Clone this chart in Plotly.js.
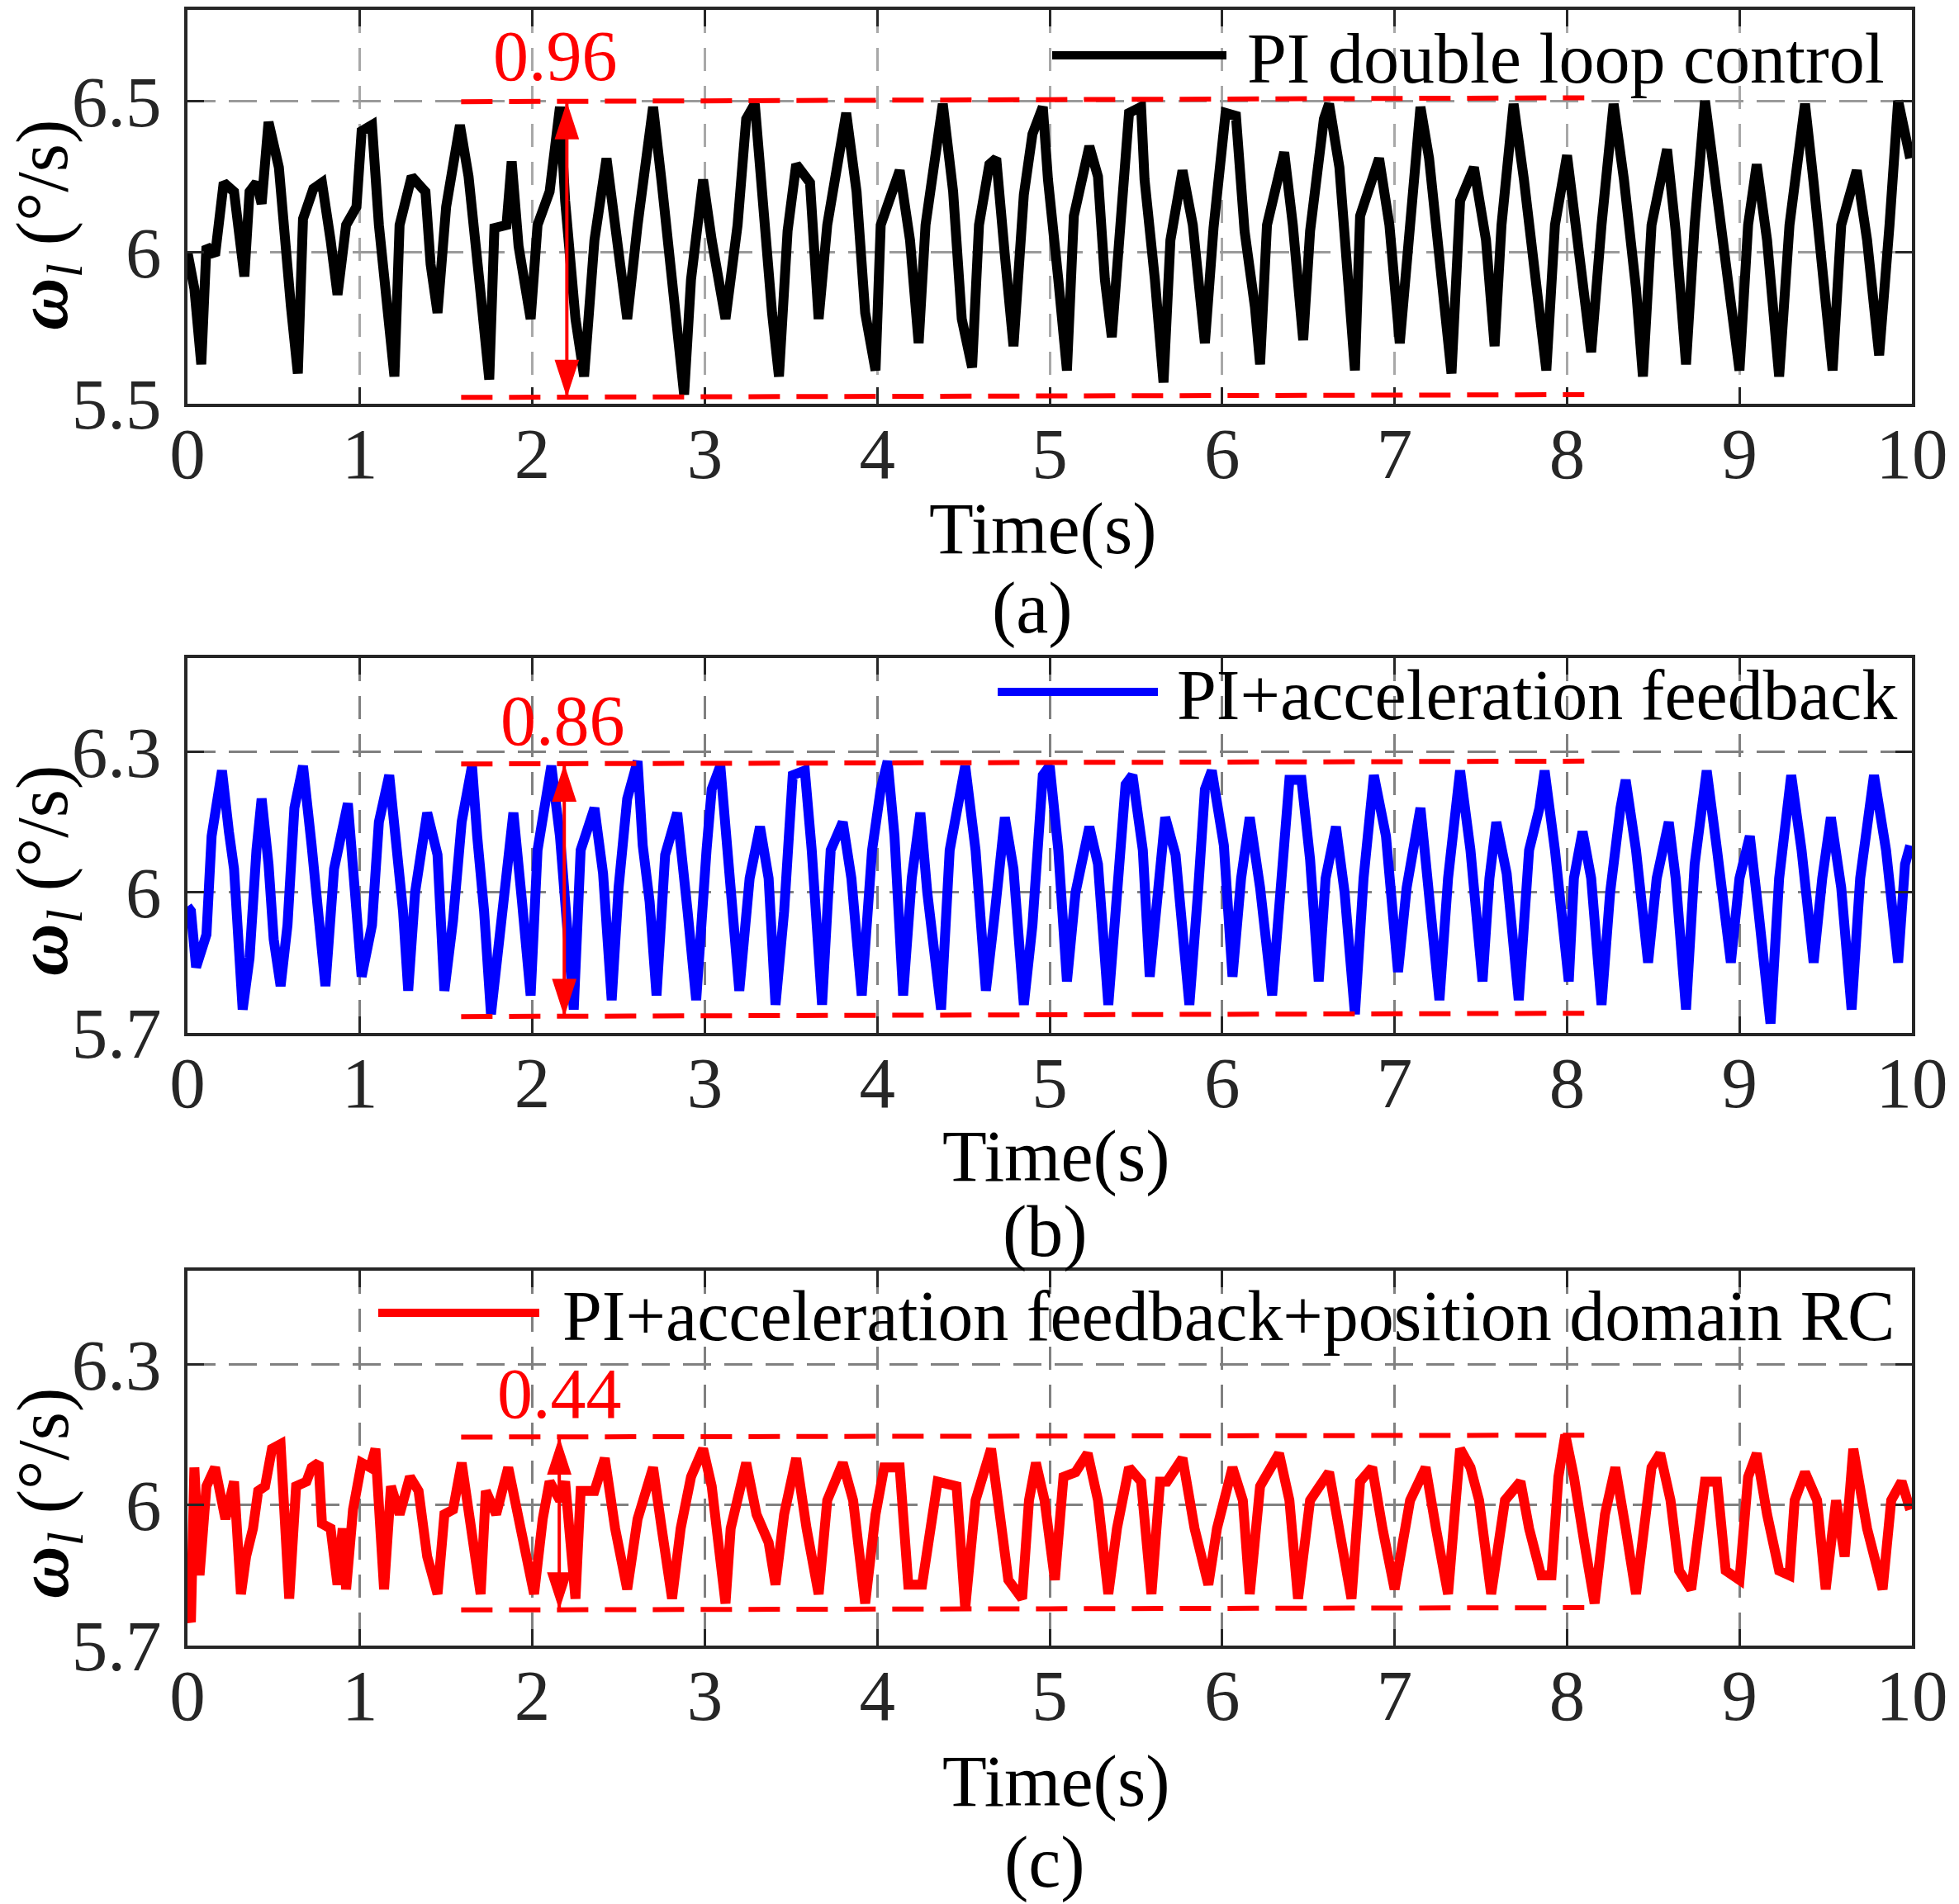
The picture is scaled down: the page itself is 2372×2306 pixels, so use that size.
<!DOCTYPE html>
<html>
<head>
<meta charset="utf-8">
<script src="https://cdn.plot.ly/plotly-3.0.1.min.js"></script>
<style>html,body{margin:0;padding:0;background:#fff;}#chart{width:2372px;height:2306px;}</style>
</head>
<body>
<div id="chart"></div>
<script>
// ---------- data ----------
const timeA = [0.00,0.04,0.08,0.11,0.16,0.21,0.27,0.33,0.36,0.40,0.43,0.47,0.53,0.57,0.60,0.64,0.67,0.73,0.78,0.83,0.87,0.92,0.98,1.01,1.07,1.11,1.14,1.20,1.23,1.30,1.38,1.41,1.45,1.50,1.58,1.63,1.69,1.75,1.78,1.85,1.88,1.92,1.99,2.03,2.10,2.16,2.19,2.25,2.30,2.36,2.43,2.50,2.55,2.61,2.70,2.75,2.81,2.88,2.92,2.99,3.04,3.12,3.19,3.24,3.29,3.33,3.39,3.43,3.48,3.53,3.61,3.66,3.71,3.82,3.88,3.93,3.99,4.02,4.13,4.19,4.24,4.28,4.38,4.44,4.49,4.55,4.59,4.65,4.69,4.74,4.79,4.85,4.90,4.96,4.99,5.05,5.10,5.14,5.23,5.28,5.32,5.36,5.41,5.46,5.53,5.55,5.61,5.66,5.70,5.77,5.83,5.90,5.95,6.02,6.08,6.13,6.19,6.22,6.26,6.36,6.41,6.47,6.51,6.59,6.62,6.68,6.73,6.77,6.80,6.91,6.97,7.03,7.09,7.15,7.20,7.27,7.33,7.38,7.46,7.53,7.58,7.62,7.69,7.75,7.82,7.88,7.93,8.00,8.05,8.14,8.20,8.27,8.33,8.40,8.44,8.49,8.58,8.63,8.69,8.74,8.80,8.87,8.94,9.00,9.05,9.10,9.16,9.23,9.29,9.38,9.43,9.48,9.54,9.59,9.68,9.74,9.81,9.87,9.92,9.99];
const omegaA = [6.00,5.88,5.63,6.02,5.99,6.23,6.20,5.92,6.20,6.23,6.16,6.43,6.28,5.99,5.82,5.60,6.11,6.21,6.23,6.04,5.86,6.09,6.15,6.40,6.42,6.09,5.91,5.59,6.09,6.25,6.20,5.96,5.80,6.15,6.42,6.25,5.92,5.58,6.08,6.09,6.30,6.02,5.78,6.09,6.20,6.48,6.17,5.78,5.59,6.04,6.31,5.96,5.78,6.09,6.48,6.23,5.91,5.53,5.91,6.24,6.04,5.78,6.09,6.44,6.49,6.17,5.80,5.59,6.07,6.29,6.23,5.78,6.09,6.46,6.20,5.80,5.61,6.09,6.27,6.04,5.70,6.09,6.49,6.20,5.78,5.62,6.09,6.29,6.31,5.99,5.69,6.19,6.39,6.48,6.24,5.91,5.61,6.12,6.35,6.25,5.91,5.72,6.09,6.46,6.48,6.24,5.91,5.57,6.04,6.27,6.09,5.70,6.08,6.46,6.45,6.07,5.82,5.63,6.09,6.33,6.09,5.71,6.07,6.44,6.49,6.28,5.91,5.61,6.12,6.31,6.09,5.70,6.09,6.48,6.31,5.91,5.60,6.17,6.28,6.04,5.69,6.09,6.49,6.24,5.91,5.61,6.09,6.32,6.09,5.67,6.09,6.49,6.24,5.88,5.59,6.09,6.34,6.07,5.63,6.09,6.50,6.20,5.88,5.61,6.09,6.29,6.04,5.59,6.09,6.49,6.23,5.91,5.61,6.09,6.27,6.04,5.66,6.09,6.50,6.31];

const timeB = [0.00,0.02,0.05,0.11,0.14,0.20,0.24,0.27,0.32,0.36,0.40,0.43,0.47,0.50,0.54,0.58,0.62,0.67,0.72,0.76,0.80,0.85,0.93,0.98,1.01,1.07,1.11,1.17,1.21,1.25,1.28,1.32,1.39,1.45,1.49,1.54,1.59,1.65,1.68,1.72,1.76,1.81,1.89,1.94,1.99,2.03,2.07,2.11,2.16,2.19,2.24,2.28,2.36,2.41,2.46,2.50,2.55,2.61,2.64,2.68,2.72,2.77,2.84,2.90,2.95,3.01,3.04,3.09,3.13,3.17,3.20,3.26,3.32,3.37,3.41,3.46,3.51,3.58,3.62,3.68,3.73,3.80,3.85,3.91,3.97,4.02,4.06,4.10,4.15,4.20,4.25,4.29,4.37,4.42,4.51,4.57,4.63,4.68,4.74,4.79,4.85,4.90,4.96,5.00,5.05,5.10,5.15,5.23,5.28,5.34,5.39,5.44,5.48,5.54,5.58,5.63,5.67,5.73,5.81,5.86,5.90,5.94,6.01,6.06,6.11,6.16,6.22,6.29,6.33,6.39,6.46,6.51,6.56,6.60,6.66,6.71,6.77,6.82,6.88,6.95,7.02,7.07,7.15,7.20,7.26,7.31,7.38,7.44,7.51,7.55,7.59,7.65,7.72,7.78,7.84,7.87,7.93,8.01,8.04,8.09,8.14,8.20,8.25,8.31,8.34,8.40,8.47,8.52,8.59,8.63,8.69,8.74,8.81,8.87,8.95,9.00,9.06,9.11,9.18,9.23,9.30,9.36,9.43,9.48,9.53,9.59,9.65,9.70,9.74,9.78,9.85,9.92,9.96,9.99];
const omegaB = [5.97,5.96,5.84,5.91,6.12,6.26,6.13,6.05,5.75,5.86,6.09,6.20,6.06,5.90,5.80,5.93,6.18,6.27,6.10,5.96,5.80,6.05,6.19,5.96,5.82,5.93,6.15,6.25,6.10,5.96,5.79,6.00,6.17,6.08,5.79,5.94,6.15,6.27,6.12,5.96,5.74,5.90,6.17,5.98,5.78,6.09,6.18,6.27,6.12,5.96,5.75,6.09,6.18,6.04,5.77,6.01,6.20,6.28,6.10,5.98,5.78,6.08,6.17,5.96,5.77,6.09,6.22,6.27,6.10,5.96,5.79,6.03,6.14,6.03,5.76,5.96,6.25,6.26,6.09,5.76,6.09,6.15,6.03,5.78,6.09,6.22,6.28,6.12,5.78,6.03,6.17,6.00,5.75,6.09,6.27,6.09,5.79,5.95,6.16,6.05,5.76,5.93,6.25,6.27,6.09,5.81,6.00,6.14,6.06,5.76,6.03,6.23,6.25,6.09,5.82,6.03,6.16,6.08,5.76,6.00,6.22,6.26,6.10,5.82,6.03,6.16,6.01,5.78,5.96,6.24,6.24,6.07,5.81,6.03,6.14,6.00,5.74,6.03,6.25,6.12,5.83,6.01,6.18,6.00,5.77,6.03,6.26,6.09,5.81,6.03,6.15,6.04,5.77,6.09,6.18,6.26,6.09,5.81,6.03,6.13,6.03,5.76,6.00,6.18,6.24,6.09,5.85,6.03,6.15,6.03,5.75,6.06,6.26,6.09,5.85,6.03,6.12,5.96,5.72,6.03,6.25,6.09,5.85,6.03,6.16,6.01,5.75,6.03,6.15,6.25,6.09,5.85,6.06,6.10];

const timeC = [0.00,0.02,0.04,0.07,0.11,0.16,0.22,0.27,0.31,0.34,0.38,0.41,0.45,0.49,0.54,0.56,0.59,0.63,0.69,0.72,0.76,0.78,0.83,0.87,0.90,0.92,0.96,1.01,1.06,1.09,1.12,1.14,1.18,1.23,1.29,1.34,1.39,1.45,1.49,1.54,1.59,1.64,1.70,1.73,1.79,1.86,1.90,1.96,2.01,2.06,2.10,2.16,2.19,2.25,2.28,2.36,2.42,2.48,2.55,2.61,2.70,2.75,2.81,2.86,2.92,2.99,3.04,3.12,3.15,3.24,3.30,3.37,3.41,3.46,3.53,3.59,3.66,3.71,3.80,3.86,3.93,3.99,4.04,4.13,4.18,4.26,4.35,4.46,4.51,4.57,4.66,4.70,4.76,4.84,4.88,4.92,4.97,5.03,5.08,5.15,5.22,5.28,5.34,5.39,5.46,5.53,5.59,5.64,5.68,5.77,5.84,5.92,5.97,6.06,6.12,6.16,6.22,6.33,6.39,6.44,6.51,6.62,6.68,6.75,6.80,6.87,6.93,7.00,7.09,7.18,7.24,7.31,7.38,7.44,7.49,7.56,7.64,7.73,7.78,7.85,7.91,7.95,7.99,8.04,8.10,8.16,8.22,8.28,8.34,8.40,8.49,8.54,8.60,8.65,8.72,8.80,8.87,8.92,9.00,9.05,9.10,9.16,9.23,9.29,9.32,9.38,9.45,9.50,9.56,9.61,9.66,9.74,9.83,9.88,9.94,9.99];
const omegaC = [5.78,5.75,6.08,5.85,6.04,6.08,5.97,6.05,5.81,5.89,5.95,6.03,6.04,6.12,6.13,6.01,5.80,6.04,6.05,6.08,6.09,5.96,5.95,5.83,5.95,5.82,5.99,6.09,6.08,6.12,5.95,5.82,6.04,5.98,6.06,6.03,5.89,5.81,5.98,5.99,6.09,5.95,5.81,6.03,5.98,6.08,6.01,5.89,5.81,5.97,6.05,6.01,6.05,5.80,6.03,6.03,6.10,5.95,5.82,5.97,6.08,5.95,5.80,5.95,6.06,6.12,6.04,5.79,5.95,6.09,5.98,5.92,5.83,5.98,6.10,5.95,5.81,6.01,6.09,6.01,5.79,5.98,6.08,6.08,5.83,5.83,6.05,6.04,5.78,6.01,6.12,6.01,5.84,5.80,6.01,6.09,6.01,5.84,6.06,6.07,6.11,6.01,5.81,5.95,6.08,6.05,5.81,6.05,6.05,6.10,5.95,5.83,5.95,6.08,6.01,5.81,6.04,6.11,6.01,5.80,6.01,6.07,5.95,5.80,6.05,6.08,5.95,5.82,6.01,6.08,5.95,5.81,6.12,6.08,6.01,5.81,6.01,6.05,5.95,5.85,5.85,6.06,6.15,6.06,5.92,5.79,5.98,6.08,5.95,5.81,6.08,6.11,6.01,5.86,5.82,6.05,6.05,5.86,5.84,6.06,6.11,5.98,5.86,5.85,6.01,6.07,6.01,5.82,6.01,5.89,6.12,5.95,5.82,6.01,6.05,5.99];

const xTicks = [0,1,2,3,4,5,6,7,8,9,10];
const yTicksA = [5.5,6,6.5];
const yTicksBC = [5.7,6,6.3];
const seriesNames = ['PI double loop control','PI+acceleration feedback','PI+acceleration feedback+position domain RC'];
const seriesColors = ['#000000','#0000ff','#ff0000'];
const panelLabels = ['(a)','(b)','(c)'];
const spreadLabels = ['0.96','0.86','0.44'];
// spread markers: [x0, x1, yTop0, yTop1, yBot0, yBot1, arrowX]
const spreadA = [1.587, 8.10, 6.497, 6.510, 5.521, 5.530, 2.20];
const spreadB = [1.587, 8.10, 6.274, 6.280, 5.735, 5.742, 2.185];
const spreadC = [1.587, 8.10, 6.145, 6.149, 5.776, 5.781, 2.156];

// ---------- layout ----------
const W = 2372, H = 2306;
const FONT = '"Liberation Serif","Times New Roman",serif';
const px = v => v / W;
const py = v => 1 - v / H;
const AX = '#262626';

const xDomain = [px(227), px(2315)];
const yDomains = [[py(489), py(12)], [py(1251), py(797)], [py(1993), py(1539)]];

function xAxis(anchor, gridColor) {
  return {
    anchor: anchor, domain: xDomain, range: [0, 10], tickvals: xTicks,
    ticks: 'inside', ticklen: 20, tickwidth: 3, tickcolor: AX,
    showline: true, linecolor: AX, linewidth: 4, mirror: 'ticks',
    showgrid: true, gridcolor: gridColor, griddash: '28px,18px', gridwidth: 3,
    zeroline: false, ticklabelstandoff: -18,
    tickfont: {family: FONT, size: 87, color: AX}
  };
}
function yAxis(anchor, dom, range, ticks, gridColor) {
  return {
    anchor: anchor, domain: dom, range: range, tickvals: ticks,
    ticks: 'inside', ticklen: 20, tickwidth: 3, tickcolor: AX,
    showline: true, linecolor: AX, linewidth: 4, mirror: 'ticks',
    showgrid: true, gridcolor: gridColor, griddash: '34px,16px', gridwidth: 3,
    zeroline: false, ticklabelstandoff: 10,
    tickfont: {family: FONT, size: 87, color: AX}
  };
}

const axSuffix = ['', '2', '3'];
const traces = [
  {x: timeA, y: omegaA, name: seriesNames[0]},
  {x: timeB, y: omegaB, name: seriesNames[1]},
  {x: timeC, y: omegaC, name: seriesNames[2]}
].map((t, i) => Object.assign(t, {
  type: 'scatter', mode: 'lines', showlegend: false,
  xaxis: 'x' + axSuffix[i], yaxis: 'y' + axSuffix[i],
  line: {color: seriesColors[i], width: 12}
}));

const shapes = [];
const annotations = [];
const spreads = [spreadA, spreadB, spreadC];
spreads.forEach((s, i) => {
  const xr = 'x' + axSuffix[i], yr = 'y' + axSuffix[i];
  const dashStyle = () => ({color: '#ff0000', width: 6, dash: '38px,20px'});
  shapes.push({type: 'line', xref: xr, yref: yr, x0: s[0], x1: s[1], y0: s[2], y1: s[3], line: dashStyle(), layer: 'above'});
  shapes.push({type: 'line', xref: xr, yref: yr, x0: s[0], x1: s[1], y0: s[4], y1: s[5], line: dashStyle(), layer: 'above'});
  // double-headed arrow drawn as a small trace: shaft + arrow markers at both ends
  traces.push({
    type: 'scatter', mode: 'lines+markers', showlegend: false,
    xaxis: xr, yaxis: yr, x: [s[6], s[6]], y: [s[4], s[2]],
    line: {color: '#ff0000', width: 4},
    marker: {symbol: 'arrow', size: 48, angle: [180, 0], color: '#ff0000', line: {width: 0}}
  });
});

// legends (line sample + text), drawn in paper coordinates
const legendPos = [
  {x0: 1274, x1: 1485, y: 67, tx: 1508},
  {x0: 1208, x1: 1402, y: 838, tx: 1423},
  {x0: 458, x1: 653, y: 1590, tx: 679}
];
legendPos.forEach((p, i) => {
  shapes.push({type: 'line', xref: 'paper', yref: 'paper', x0: px(p.x0), x1: px(p.x1), y0: py(p.y), y1: py(p.y),
    line: {color: seriesColors[i], width: 10}, layer: 'above'});
  annotations.push({xref: 'paper', yref: 'paper', x: px(p.tx), y: py(p.y + 4), xanchor: 'left', yanchor: 'middle',
    text: seriesNames[i], showarrow: false, font: {family: FONT, size: 86, color: '#000'}});
});

// spread labels
const spreadLabelPos = [[672, 68], [681, 873], [677, 1688]];
spreadLabelPos.forEach((p, i) => {
  annotations.push({xref: 'paper', yref: 'paper', x: px(p[0]), y: py(p[1]), xanchor: 'center', yanchor: 'middle',
    text: spreadLabels[i], showarrow: false, font: {family: FONT, size: 86, color: '#ff0000'}});
});

// y titles, x titles, panel labels
const yTitleY = [273, 1055, 1809];
const xTitlePos = [[1262, 640], [1278, 1400], [1278, 2157]];
const panelPos = [[1250, 736], [1265, 1492], [1265, 2255]];
for (let i = 0; i < 3; i++) {
  annotations.push({xref: 'paper', yref: 'paper', x: px(58), y: py(yTitleY[i]), xanchor: 'center', yanchor: 'middle',
    textangle: -90, showarrow: false,
    text: '<b><i>ω</i></b><sub><i>l</i></sub> (°/s)', font: {family: FONT, size: 88, color: '#000'}});
  annotations.push({xref: 'paper', yref: 'paper', x: px(xTitlePos[i][0]), y: py(xTitlePos[i][1]), xanchor: 'center', yanchor: 'middle',
    text: 'Time(s)', showarrow: false, font: {family: FONT, size: 88, color: '#000'}});
  annotations.push({xref: 'paper', yref: 'paper', x: px(panelPos[i][0]), y: py(panelPos[i][1]), xanchor: 'center', yanchor: 'middle',
    text: panelLabels[i], showarrow: false, font: {family: FONT, size: 88, color: '#000'}});
}

const layout = {
  width: W, height: H, margin: {l: 0, r: 0, t: 0, b: 0},
  paper_bgcolor: '#ffffff', plot_bgcolor: '#ffffff', showlegend: false,
  font: {family: FONT, color: '#000'},
  xaxis: xAxis('y', '#a8a8a8'),
  xaxis2: xAxis('y2', '#808080'),
  xaxis3: xAxis('y3', '#808080'),
  yaxis: yAxis('x', yDomains[0], [5.5, 6.8], yTicksA, '#9a9a9a'),
  yaxis2: yAxis('x2', yDomains[1], [5.7, 6.5], yTicksBC, '#808080'),
  yaxis3: yAxis('x3', yDomains[2], [5.7, 6.5], yTicksBC, '#808080'),
  shapes: shapes, annotations: annotations
};

Plotly.newPlot('chart', traces, layout, {staticPlot: true, displayModeBar: false});
</script>
</body>
</html>
